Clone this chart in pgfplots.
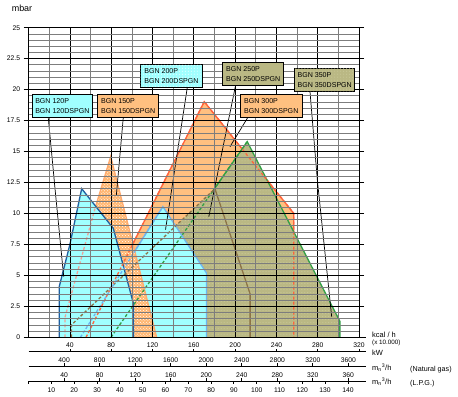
\documentclass[border=0pt]{standalone}
\usepackage{fontspec}
\setmainfont{Liberation Sans}
\usepackage{pgfplots}
\pgfplotsset{compat=1.18}
\usetikzlibrary{patterns}

\definecolor{cyanfill}{RGB}{160,255,255}
\definecolor{orangefill}{RGB}{255,192,128}
\definecolor{orangedot}{RGB}{255,182,112}
\definecolor{olivefill}{RGB}{186,184,132}
\definecolor{olivedot}{RGB}{206,206,160}
\definecolor{darkblue}{RGB}{30,95,160}
\definecolor{lightblue}{RGB}{110,180,240}
\definecolor{redorange}{RGB}{255,100,60}
\definecolor{lightorange}{RGB}{255,170,110}
\definecolor{salmon}{RGB}{240,160,150}
\definecolor{greenline}{RGB}{50,160,70}
\definecolor{brownline}{RGB}{140,115,70}
\definecolor{gridgray}{RGB}{125,125,125}

\begin{document}
\begin{tikzpicture}
\useasboundingbox (-28.6bp,-59.7bp) rectangle (429.4bp,337.3bp);
\begin{axis}[
  anchor=origin, at={(0,0)},
  x=1.0327bp, y=12.384bp,
  xmin=0, xmax=320, ymin=0, ymax=25,
  axis on top,
  xtick={0,40,...,320}, xticklabels={},
  minor x tick num=1,
  ytick={0,2.5,5,7.5,10,12.5,15,17.5,20,22.5,25},
  minor y tick num=4,
  grid=both,
  major grid style={black, line width=0.8bp},
  minor grid style={gridgray, line width=0.7bp},
  tick align=outside,
  xtick style={draw=none},
  ytick style={black, line width=0.7bp},
  major tick length=5bp,
  minor tick length=0pt,
  axis line style={black, line width=0.9bp},
  /pgf/number format/assume math mode=true,
  yticklabel style={font=\fontsize{6.8}{8}\selectfont},
]
% BGN 300
\addplot[fill=orangefill, draw=none] coordinates {(55.6,0) (170.1,19.03) (256.8,10.0) (256.8,0)} \closedcycle;
\addplot[redorange, line width=1.3bp] coordinates {(55.6,0) (170.1,19.03) (256.8,10.0) (256.8,0)};
% BGN 350
\addplot[fill=olivefill, draw=none, postaction={pattern=dots, pattern color=olivedot}] coordinates {(79.8,0) (211.7,15.8) (301.4,1.3) (301.4,0)} \closedcycle;
\addplot[greenline, line width=1.3bp] coordinates {(79.8,0) (211.7,15.8) (301.4,1.3) (301.4,0)};
% BGN 250
\addplot[fill=olivefill, draw=none, postaction={pattern=dots, pattern color=olivedot}] coordinates {(41.5,0) (41.5,1.0) (180.4,12.0) (214.5,3.5) (214.5,0)} \closedcycle;
\addplot[brownline, line width=1.3bp] coordinates {(180.4,12.0) (214.5,3.5) (214.5,0)};
% BGN 200
\addplot[fill=cyanfill, draw=none] coordinates {(50.2,0) (130,10.55) (172.2,5.2) (172.2,0)} \closedcycle;
\addplot[lightblue, line width=1.3bp] coordinates {(50.2,0) (130,10.55) (172.2,5.2) (172.2,0)};
% BGN 150
\addplot[fill=orangedot, draw=none, postaction={pattern=crosshatch dots, pattern color=white}] coordinates {(35.2,0) (35.2,1.6) (64.3,10.4) (79.5,14.6) (124,0)} \closedcycle;
\addplot[lightorange, line width=1.3bp] coordinates {(35.2,0) (35.2,1.6) (64.3,10.4) (79.5,14.6) (124,0)};
% BGN 120
\addplot[fill=cyanfill, draw=none] coordinates {(29.7,0) (29.7,4.1) (40,7.5) (51.4,12.0) (82.0,8.8) (101.6,2.7) (101.6,0)} \closedcycle;
\addplot[darkblue, line width=1.3bp] coordinates {(29.7,0) (29.7,4.1) (40,7.5) (51.4,12.0) (82.0,8.8) (101.6,2.7) (101.6,0)};
% hidden edges, dashed
\addplot[redorange, line width=1.3bp, dash pattern=on 3bp off 2bp] coordinates {(55.6,0) (170.1,19.03) (256.8,10.0) (256.8,0)};
\addplot[greenline, line width=1.3bp, dash pattern=on 3bp off 2bp] coordinates {(79.8,0) (211.7,15.8)};
\addplot[brownline, line width=1.3bp, dash pattern=on 3bp off 2bp] coordinates {(41.5,0) (41.5,1.0) (180.4,12.0)};
\addplot[lightblue, line width=1.3bp, dash pattern=on 3bp off 2bp] coordinates {(50.2,0) (130,10.55)};
\addplot[salmon, line width=1.3bp, dash pattern=on 3bp off 2bp] coordinates {(35.2,0) (35.2,1.6) (64.3,10.4)};
% leader lines
\addplot[black, line width=0.7bp] coordinates {(19.1,17.69) (25.7,11.9) (34.0,4.9)};
\addplot[black, line width=0.7bp] coordinates {(91.7,17.77) (85.0,11.5)};
\addplot[black, line width=0.7bp] coordinates {(153.7,20.19) (132.6,8.7)};
\addplot[black, line width=0.7bp] coordinates {(200.5,20.37) (174.5,9.74)};
\addplot[black, line width=0.7bp] coordinates {(212.7,17.81) (195.0,15.39)};
\addplot[black, line width=0.7bp] coordinates {(272.5,19.83) (279.6,12.7) (293.5,1.66)};
\end{axis}

% label boxes
\begin{scope}[x=1.0327bp, y=12.384bp,
  box/.style={draw=black, line width=0.8bp, anchor=north west, inner xsep=1.5bp, inner ysep=0pt,
    minimum height=23bp, minimum width=#1, align=left, font=\fontsize{7.1}{10.6}\selectfont}]
\node[box=60.6bp, fill=cyanfill] at (3.0,19.62) {BGN 120P\\BGN 120DSPGN};
\node[box=61bp, fill=orangefill] at (66.5,19.62) {BGN 150P\\BGN 150DSPGN};
\node[box=61.4bp, fill=cyanfill, postaction={pattern=dots, pattern color=white}] at (108.2,22.04) {BGN 200P\\BGN 200DSPGN};
\node[box=61bp, fill=olivefill] at (187.6,22.21) {BGN 250P\\BGN 250DSPGN};
\node[box=61.7bp, fill=orangefill] at (204.7,19.62) {BGN 300P\\BGN 300DSPGN};
\node[box=60bp, fill=olivefill, postaction={pattern=dots, pattern color=olivedot}] at (257.3,21.72) {BGN 350P\\BGN 350DSPGN};
\end{scope}

% lower scales
\begin{scope}[x=1.0327bp, y=1bp, every node/.style={font=\fontsize{6.8}{8}\selectfont, inner sep=0pt}]
\draw[line width=0.9bp] (320,0) -- (326.7,0);
\draw[line width=0.9bp] (0,-14.4) -- (326.7,-14.4);
\draw[line width=0.9bp] (0,-28.7) -- (326.7,-28.7);
\draw[line width=0.9bp] (0,-43.7) -- (326.7,-43.7);
\foreach \k in {40,80,...,320} {
  \draw[line width=0.8bp] (\k,-14.4) -- ++(0,3);
  \node at (\k,-8) {\k};
}
\foreach \w in {400,800,...,3600} {
  \draw[line width=0.8bp] ({\w*0.086},-28.7) -- ++(0,3);
  \node at ({\w*0.086},-23.2) {\w};
}
\foreach \n in {40,80,...,360} {
  \draw[line width=0.8bp] ({\n*0.86},-43.7) -- ++(0,3);
  \node at ({\n*0.86},-38.2) {\n};
}
\draw[line width=0.8bp] (0,-43.7) -- ++(0,-3);
\foreach \l in {10,20,...,140} {
  \draw[line width=0.8bp] ({\l*2.2086},-43.7) -- ++(0,-3);
  \node at ({\l*2.2086},-52.7) {\l};
}
\end{scope}

% unit labels
\begin{scope}[every node/.style={inner sep=0pt, anchor=west}]
\node[font=\fontsize{7.5}{8}\selectfont] at (343.4bp,2.0bp) {kcal / h};
\node[font=\fontsize{6.3}{7}\selectfont] at (343.4bp,-5.6bp) {(x 10.000)};
\node[font=\fontsize{7.5}{8}\selectfont] at (343.4bp,-15bp) {kW};
\node[font=\fontsize{7.5}{8}\selectfont] at (343.4bp,-30.2bp) {m\textsubscript{n}\textsuperscript{3}/h};
\node[font=\fontsize{7.2}{8}\selectfont] at (381.4bp,-32.2bp) {(Natural gas)};
\node[font=\fontsize{7.5}{8}\selectfont] at (343.4bp,-44.7bp) {m\textsubscript{n}\textsuperscript{3}/h};
\node[font=\fontsize{7.2}{8}\selectfont] at (381.4bp,-46.2bp) {(L.P.G.)};
\node[font=\fontsize{9}{10}\selectfont, anchor=center] at (-6.6bp,329bp) {mbar};
\end{scope}
\end{tikzpicture}
\end{document}
